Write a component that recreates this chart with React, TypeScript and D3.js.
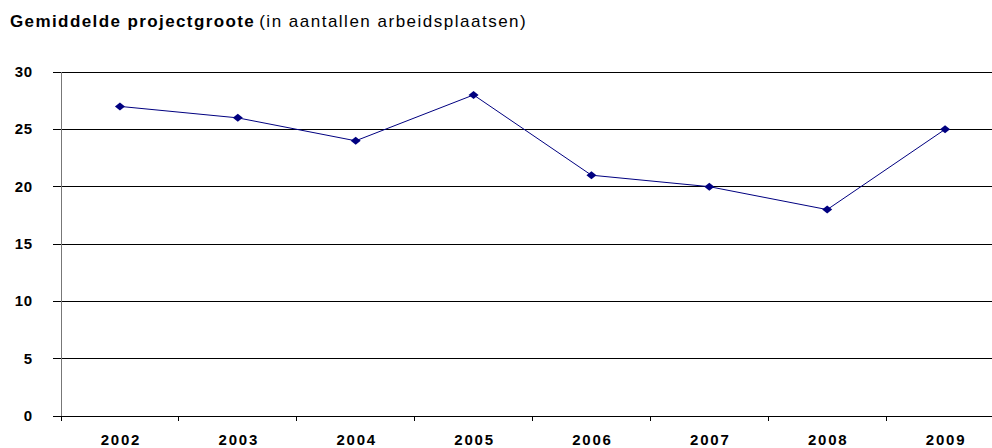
import React from "react";
import * as d3 from "d3";

const years = ["2002", "2003", "2004", "2005", "2006", "2007", "2008", "2009"];
const values = [27, 26, 24, 28, 21, 20, 18, 25];
const yTicks = [0, 5, 10, 15, 20, 25, 30];

export default function App() {
  const W = 992, H = 448;
  const left = 61, right = 1004, top = 72, bottom = 416;
  const x = d3.scaleBand<string>().domain(years).range([left, right]);
  const y = d3.scaleLinear().domain([0, 30]).range([bottom, top]);
  const line = d3.line<number>()
    .x((_, i) => x(years[i])! + x.bandwidth() / 2)
    .y((d) => y(d));
  const font = "'Liberation Sans', Arial, sans-serif";
  return (
    <svg width={W} height={H} style={{ position: "absolute", left: 0, top: 0, background: "#fff" }} fontFamily={font}>
      <text x={10} y={27} fontSize={17} fill="#000">
        <tspan fontWeight="bold" letterSpacing="1.4">Gemiddelde projectgroote</tspan>
        <tspan dx={4} letterSpacing="1.5">(in aantallen arbeidsplaatsen)</tspan>
      </text>
      {yTicks.map((t) => (
        <g key={t}>
          <line x1={53} x2={right} y1={y(t)} y2={y(t)} stroke="#000" strokeWidth={1} shapeRendering="crispEdges" />
          <text x={33} y={y(t) + 5} textAnchor="end" fontSize={15} fontWeight="bold" letterSpacing="0.8">{t}</text>
        </g>
      ))}
      <line x1={left} x2={left} y1={top} y2={bottom + 5} stroke="#777" strokeWidth={1} shapeRendering="crispEdges" />
      {years.map((yr, i) => (
        <line key={"t" + i} x1={x(yr)!} x2={x(yr)!} y1={bottom} y2={bottom + 5} stroke="#000" shapeRendering="crispEdges" />
      ))}
      {years.map((yr) => (
        <text key={yr} x={x(yr)! + x.bandwidth() / 2 + 1} y={445} textAnchor="middle" fontSize={15} fontWeight="bold" letterSpacing="1.8">{yr}</text>
      ))}
      <path d={line(values) || ""} fill="none" stroke="#000080" strokeWidth={1} />
      {values.map((v, i) => {
        const cx = x(years[i])! + x.bandwidth() / 2, cy = y(v);
        return (
          <path key={i} d={`M${cx - 5},${cy} L${cx},${cy - 4} L${cx + 5},${cy} L${cx},${cy + 4} Z`} fill="#000080" />
        );
      })}
    </svg>
  );
}
